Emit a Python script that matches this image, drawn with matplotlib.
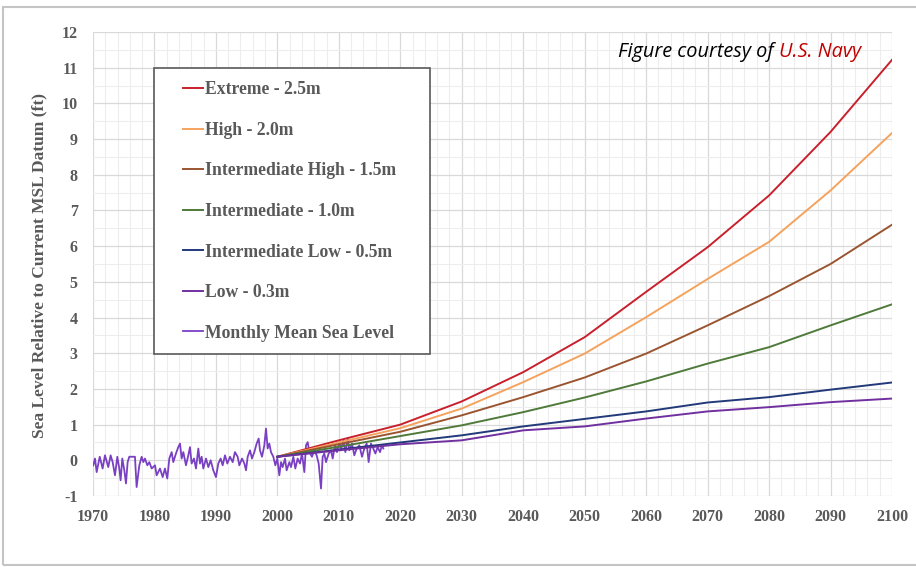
import matplotlib
matplotlib.use('Agg')
from matplotlib import pyplot as plt
from matplotlib.patches import Rectangle
from matplotlib.ticker import MultipleLocator

plt.rcParams['axes.unicode_minus'] = False

# projection scenarios (ft)
proj_years = [2000, 2010, 2020, 2030, 2040, 2050, 2060, 2070, 2080, 2090, 2100]
extreme = [0.1, 0.56, 1.0, 1.65, 2.47, 3.45, 4.72, 5.97, 7.42, 9.2, 11.22]
high = [0.1, 0.5, 0.9, 1.45, 2.19, 2.99, 4.01, 5.08, 6.12, 7.56, 9.17]
int_high = [0.1, 0.45, 0.8, 1.26, 1.77, 2.32, 2.99, 3.78, 4.6, 5.5, 6.6]
intermediate = [0.1, 0.38, 0.68, 0.98, 1.35, 1.76, 2.21, 2.71, 3.17, 3.78, 4.37]
int_low = [0.1, 0.3, 0.5, 0.7, 0.95, 1.16, 1.37, 1.62, 1.77, 1.98, 2.18]
low = [0.1, 0.28, 0.45, 0.56, 0.84, 0.95, 1.17, 1.37, 1.49, 1.63, 1.73]

# monthly mean sea level (ft), approximate readings
msl_years = [1970.05, 1970.33, 1970.6, 1971.1, 1971.57, 1971.95, 1972.49, 1972.87,
             1973.2, 1973.58, 1973.96, 1974.28, 1974.5, 1974.77, 1975.1, 1975.37,
             1975.64, 1975.91, 1976.83, 1977.1, 1977.54, 1977.92, 1978.19, 1978.46,
             1978.84, 1979.17, 1979.55, 1980.09, 1980.36, 1980.9, 1981.34, 1981.71,
             1982.09, 1982.42, 1982.8, 1983.07, 1983.5, 1983.88, 1984.16, 1984.43,
             1984.7, 1985.13, 1985.51, 1985.78, 1986.05, 1986.43, 1986.76, 1987.14,
             1987.41, 1987.68, 1987.95, 1988.39, 1988.77, 1989.15, 1989.58, 1990.01,
             1990.39, 1990.77, 1991.1, 1991.48, 1991.86, 1992.29, 1992.73, 1993.1,
             1993.54, 1993.81, 1994.25, 1994.63, 1994.9, 1995.17, 1995.55, 1995.87,
             1996.25, 1996.63, 1996.96, 1997.17, 1997.5, 1997.88, 1998.15, 1998.42,
             1998.69, 1998.96, 1999.34, 1999.67, 1999.99, 2000.32, 2000.59, 2000.86,
             2001.24, 2001.51, 2001.95, 2002.22, 2002.6, 2002.92, 2003.3, 2003.68,
             2004.01, 2004.39, 2004.66, 2004.93, 2005.2, 2005.63, 2006.01, 2006.39,
             2006.72, 2007.1, 2007.37, 2007.64, 2007.91, 2008.35, 2008.73, 2009.0,
             2009.38, 2009.7, 2010.08, 2010.35, 2010.73, 2011.06, 2011.44, 2011.71,
             2012.14, 2012.52, 2012.9, 2013.34, 2013.77, 2014.15, 2014.53, 2014.85,
             2015.23, 2015.61, 2015.94, 2016.32, 2016.7, 2017.02, 2017.24]
msl = [-0.14, 0.05, -0.33, 0.1, -0.23, 0.14, -0.19, 0.14,
       -0.05, -0.42, 0.1, -0.23, -0.56, 0.05, -0.28, -0.65,
       -0.05, 0.1, 0.1, -0.75, -0.14, 0.1, -0.05, 0.05,
       -0.14, -0.05, -0.23, -0.14, -0.42, -0.23, -0.47, -0.23,
       -0.51, 0.05, 0.23, -0.05, 0.19, 0.37, 0.47, 0.05,
       0.23, -0.14, 0.14, 0.37, -0.09, 0.05, -0.23, 0.33,
       -0.09, 0.1, -0.23, 0.05, -0.19, 0.0, -0.28, -0.47,
       -0.09, 0.05, -0.14, 0.14, -0.09, 0.1, -0.05, 0.23,
       0.1, -0.14, 0.05, -0.09, -0.28, 0.1, 0.28, 0.05,
       0.23, 0.47, 0.61, 0.28, 0.1, 0.42, 0.89, 0.33,
       0.47, 0.23, 0.1, -0.14, 0.05, -0.42, -0.05, -0.19,
       0.05, -0.28, -0.05, -0.19, 0.1, -0.23, 0.05, -0.09,
       0.19, -0.33, 0.42, 0.51, 0.23, 0.1, 0.28, 0.14,
       -0.09, -0.79, 0.1, 0.19, -0.05, 0.19, 0.28, 0.05,
       0.42, 0.23, 0.51, 0.28, 0.56, 0.23, 0.61, 0.28,
       0.47, 0.14, 0.33, 0.42, 0.1, 0.33, 0.47, -0.05,
       0.47, 0.33, 0.19, 0.37, 0.23, 0.42, 0.33]

x_ticks = list(range(1970, 2101, 10))
y_ticks = list(range(-1, 13))

series = [
    ('Extreme - 2.5m', extreme, '#c8202c'),
    ('High - 2.0m', high, '#f5a25d'),
    ('Intermediate High - 1.5m', int_high, '#9a5530'),
    ('Intermediate - 1.0m', intermediate, '#4f7a3a'),
    ('Intermediate Low - 0.5m', int_low, '#22397a'),
    ('Low - 0.3m', low, '#7030a0'),
]

fig = plt.figure(figsize=(9.16, 5.67), dpi=100)
ax = fig.add_axes([0.1015, 0.1252, 0.8723, 0.8184])

# grey frame round the picture
fig.patches.append(Rectangle((3 / 916, 1 - 565 / 567), 1.0, 558 / 567,
                             transform=fig.transFigure, fill=False,
                             edgecolor='#c4c4c4', linewidth=1.5))

# monthly data first so the projections sit on top
ax.plot(msl_years, msl, color='#7a40c4', lw=1.3, label='Monthly Mean Sea Level', zorder=3)
for name, vals, col in series:
    ax.plot(proj_years, vals, color=col, lw=1.4, label=name, zorder=4)

ax.set_xlim(1970, 2100)
ax.set_ylim(-1, 12)
ax.set_xticks(x_ticks)
ax.set_yticks(y_ticks)
ax.xaxis.set_minor_locator(MultipleLocator(2))
ax.yaxis.set_minor_locator(MultipleLocator(0.5))
ax.grid(which='major', color='#d9d9d9', lw=0.9, zorder=0)
ax.grid(which='minor', color='#ededed', lw=0.8, zorder=0)
ax.set_axisbelow(True)
for s in ax.spines.values():
    s.set_visible(False)
ax.tick_params(which='both', length=0)
ax.tick_params(axis='y', pad=11)
ax.tick_params(axis='x', pad=9)

tick_font = dict(family='Liberation Serif', weight='bold', size=11.5)
for lab in ax.get_xticklabels() + ax.get_yticklabels():
    lab.set_fontproperties(tick_font)
    lab.set_color('#595959')

ax.set_ylabel('Sea Level Relative to Current MSL Datum (ft)', family='Liberation Serif',
              weight='bold', size=12.5, color='#595959')
ax.yaxis.set_label_coords(-0.057, 0.496)

# legend box drawn by hand, entries placed inside it
ax.add_patch(Rectangle((0.0763, 0.306), 0.3455, 0.6164, transform=ax.transAxes,
                       facecolor='white', edgecolor='#595959', lw=1.2, zorder=5))
handles, labels = ax.get_legend_handles_labels()
order = [1, 2, 3, 4, 5, 6, 0]
leg = ax.legend([handles[i] for i in order], [labels[i] for i in order],
                loc='upper left', bbox_to_anchor=(0.1126, 0.8936), frameon=False,
                borderpad=0, borderaxespad=0, handlelength=1.15, handletextpad=0.1,
                labelspacing=1.335,
                prop=dict(family='Liberation Serif', weight='bold', size=12.7))
leg.set_zorder(6)
for t in leg.get_texts():
    t.set_color('#595959')

t1 = ax.text(618 / 916, 1 - 62 / 567, 'Figure courtesy of ', transform=fig.transFigure,
             family='Open Sans', style='italic', size=14.3, color='black', va='bottom')
ax.annotate('U.S. Navy', xy=(1, 0), xycoords=t1, family='Open Sans', style='italic',
            size=14.3, color='#c00000', va='bottom', ha='left')

fig.savefig('out.png', dpi=100)
